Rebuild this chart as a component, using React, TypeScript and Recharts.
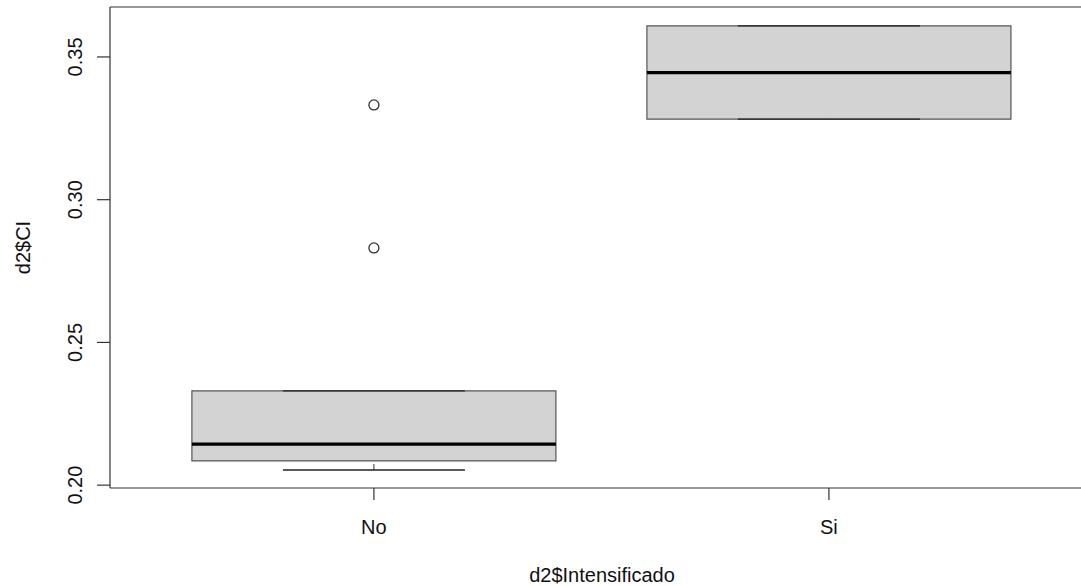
import { ComposedChart, XAxis, YAxis, ReferenceArea, ReferenceLine, Scatter, Label } from 'recharts';

// boxplot of d2$CI by d2$Intensificado
const categories = ['No', 'Si'];
const lowerWhisker = [0.2053, 0.3282];
const lowerHinge = [0.2085, 0.3282];
const medians = [0.2144, 0.3445];
const upperHinge = [0.233, 0.3609];
const upperWhisker = [0.233, 0.3609];
const outliersNo = [0.3332, 0.2831];
const outliersSi: number[] = [];
const yTicks = [0.2, 0.25, 0.3, 0.35];

const Y_DOMAIN: [number, number] = [0.199, 0.3675];
// right edge of the R plot region is cut off by the image border
const X_DOMAIN: [number, number] = [0.42, 2.554];
const FONT = '"Liberation Sans", Arial, sans-serif';
const FONT_SIZE = 20;
const FRAME = { stroke: '#333', strokeWidth: 1.2 };

const outlierPoints = [
  ...outliersNo.map((y) => ({ x: 1, y })),
  ...outliersSi.map((y) => ({ x: 2, y })),
];

const XTick = ({ x, y, payload }: any) => (
  <text x={x} y={y + 32} textAnchor="middle" fontFamily={FONT} fontSize={FONT_SIZE} fill="#111">
    {categories[payload.value - 1]}
  </text>
);

const YTick = ({ y, payload }: any) => (
  <text
    x={82}
    y={y}
    transform={`rotate(-90, 82, ${y})`}
    textAnchor="middle"
    fontFamily={FONT}
    fontSize={FONT_SIZE}
    fill="#111"
  >
    {payload.value.toFixed(2)}
  </text>
);

const hollowCircle = ({ cx, cy }: any) => (
  <circle cx={cx} cy={cy} r={5} fill="none" stroke="#333" strokeWidth={1.3} />
);

export default function App() {
  return (
    <div style={{ position: 'absolute', left: 0, top: 0, width: 1081, height: 586, overflow: 'hidden', background: '#fff' }}>
      <ComposedChart width={1081} height={586} margin={{ top: 7, right: 0, bottom: 0, left: 0 }}>
        <XAxis
          dataKey="x"
          type="number"
          domain={X_DOMAIN}
          ticks={[1, 2]}
          allowDataOverflow
          height={98}
          axisLine={FRAME}
          tickSize={12}
          tickLine={FRAME}
          tick={<XTick />}
        >
          <Label
            content={() => (
              <text x={602} y={582} textAnchor="middle" fontFamily={FONT} fontSize={FONT_SIZE} fill="#111">
                d2$Intensificado
              </text>
            )}
          />
        </XAxis>
        <YAxis
          type="number"
          domain={Y_DOMAIN}
          ticks={yTicks}
          allowDataOverflow
          width={110}
          axisLine={FRAME}
          tickSize={13}
          tickLine={FRAME}
          tick={<YTick />}
        >
          <Label
            content={({ viewBox }: any) => {
              const cy = viewBox.y + viewBox.height / 2;
              return (
                <text
                  x={30}
                  y={cy}
                  transform={`rotate(-90, 30, ${cy})`}
                  textAnchor="middle"
                  fontFamily={FONT}
                  fontSize={FONT_SIZE}
                  fill="#111"
                >
                  d2$CI
                </text>
              );
            }}
          />
        </YAxis>

        {/* top edge of the plot frame */}
        <ReferenceLine y={Y_DOMAIN[1]} {...FRAME} ifOverflow="visible" />

        {categories.map((c, i) => (
          <ReferenceArea
            key={`box-${c}`}
            x1={i + 1 - 0.4}
            x2={i + 1 + 0.4}
            y1={lowerHinge[i]}
            y2={upperHinge[i]}
            fill="#d3d3d3"
            fillOpacity={1}
            stroke="#555"
            strokeWidth={1.2}
            ifOverflow="visible"
          />
        ))}

        {/* whiskers */}
        {categories.map((c, i) => (
          <ReferenceLine
            key={`wl-${c}`}
            segment={[{ x: i + 1, y: lowerWhisker[i] }, { x: i + 1, y: lowerHinge[i] }]}
            stroke="#333"
            strokeDasharray="6 4"
            ifOverflow="visible"
          />
        ))}
        {categories.map((c, i) => (
          <ReferenceLine
            key={`wu-${c}`}
            segment={[{ x: i + 1, y: upperHinge[i] }, { x: i + 1, y: upperWhisker[i] }]}
            stroke="#333"
            strokeDasharray="6 4"
            ifOverflow="visible"
          />
        ))}
        {categories.map((c, i) => (
          <ReferenceLine
            key={`cl-${c}`}
            segment={[{ x: i + 1 - 0.2, y: lowerWhisker[i] }, { x: i + 1 + 0.2, y: lowerWhisker[i] }]}
            stroke="#222"
            strokeWidth={1.3}
            ifOverflow="visible"
          />
        ))}
        {categories.map((c, i) => (
          <ReferenceLine
            key={`cu-${c}`}
            segment={[{ x: i + 1 - 0.2, y: upperWhisker[i] }, { x: i + 1 + 0.2, y: upperWhisker[i] }]}
            stroke="#222"
            strokeWidth={1.3}
            ifOverflow="visible"
          />
        ))}

        {/* medians */}
        {categories.map((c, i) => (
          <ReferenceLine
            key={`med-${c}`}
            segment={[{ x: i + 1 - 0.4, y: medians[i] }, { x: i + 1 + 0.4, y: medians[i] }]}
            stroke="#000"
            strokeWidth={3.2}
            ifOverflow="visible"
          />
        ))}

        <Scatter data={outlierPoints} dataKey="y" shape={hollowCircle} isAnimationActive={false} />
      </ComposedChart>
    </div>
  );
}
